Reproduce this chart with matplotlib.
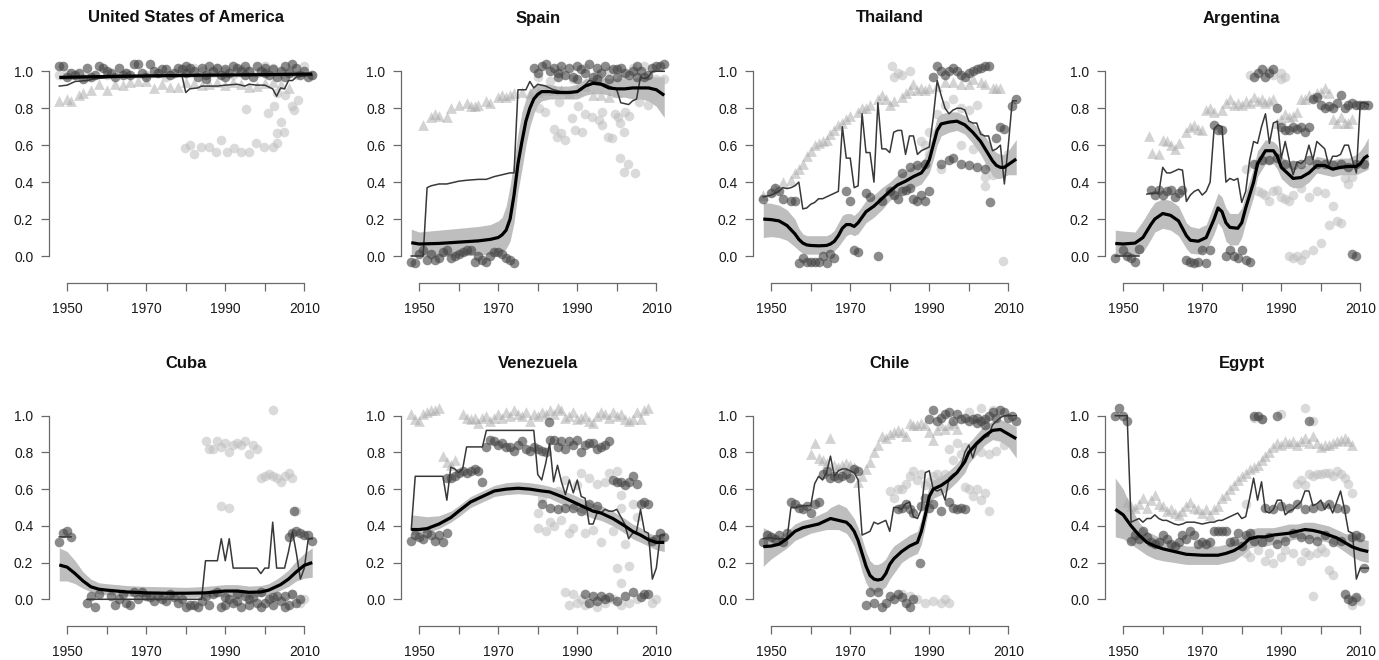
import numpy as np
import matplotlib.pyplot as plt

plt.rcParams['font.family'] = ['Liberation Sans', 'DejaVu Sans']

# ---------------- data ----------------
years_all = list(range(1948, 2013))
nan = np.nan

# United States of America
usa_fit_yr = [1948, 1960, 1980, 2000, 2012]
usa_fit = [0.967, 0.972, 0.978, 0.982, 0.985]
usa_lo = [0.955, 0.962, 0.968, 0.972, 0.972]
usa_hi = [0.978, 0.982, 0.988, 0.992, 0.996]
usa_line_yr = [1948, 1950, 1952, 1955, 1957, 1960, 1965, 1970, 1975, 1979, 1980, 1981, 1983, 1984, 1986, 1988,
               1990, 1993, 1995, 1996, 1998, 2000, 2001, 2002, 2003, 2004, 2005, 2006, 2007, 2008, 2010, 2012]
usa_line = [0.92, 0.925, 0.945, 0.95, 0.96, 0.965, 0.97, 0.975, 0.975, 0.98, 0.885, 0.905, 0.91, 0.92, 0.92, 0.92,
            0.925, 0.93, 0.92, 0.93, 0.925, 0.925, 0.915, 0.905, 0.865, 0.91, 0.905, 0.95, 0.95, 0.97, 0.975, 0.98]
usa_dark = [(1948, 1.03), (1949, 1.03), (1950, 0.97), (1951, 0.99), (1952, 0.98), (1953, 0.99), (1954, 0.96),
            (1955, 1.02), (1956, 0.97), (1957, 0.98), (1958, 1.03), (1959, 1.02), (1960, 1.0), (1961, 0.99),
            (1962, 0.97), (1963, 1.02), (1964, 0.98), (1965, 0.99), (1966, 0.98), (1967, 1.04), (1968, 1.04),
            (1969, 0.99), (1970, 0.97), (1971, 1.04), (1972, 1.0), (1973, 0.99), (1974, 1.01), (1975, 1.01),
            (1976, 0.98), (1977, 0.99), (1978, 1.02), (1979, 1.01), (1980, 0.99), (1981, 1.02), (1982, 1.0),
            (1983, 0.97), (1984, 1.02), (1985, 0.98), (1986, 1.03), (1987, 1.0), (1988, 1.02), (1989, 0.98),
            (1990, 1.01), (1991, 0.99), (1992, 1.03), (1993, 1.02), (1994, 1.0), (1995, 0.98), (1996, 1.0),
            (1997, 0.97), (1998, 1.03), (1999, 1.0), (2000, 0.99), (2001, 0.98), (2002, 1.01), (2003, 0.97),
            (2004, 1.0), (2005, 1.03), (2006, 0.99), (2007, 1.04), (2008, 1.02), (2009, 0.98), (2010, 1.0),
            (2011, 0.97), (2012, 0.98), (1980, 1.03), (1985, 0.96), (1990, 0.97), (1995, 1.03), (2000, 1.02),
            (2005, 0.97)]
usa_light = [(1948, 0.98), (1950, 0.99), (1955, 0.97), (1960, 0.98), (1965, 0.99), (1970, 0.98), (1975, 0.97),
             (1980, 0.99), (1982, 1.02), (1984, 1.0), (1986, 0.99), (1988, 1.02), (1990, 1.0), (1992, 0.98),
             (1994, 1.01), (1996, 1.0), (1998, 0.99), (2000, 1.03), (2002, 1.02), (2004, 0.99), (2006, 1.0),
             (2008, 0.98), (2010, 1.03), (2012, 0.98),
             (1979.9, 0.583), (1981.2, 0.6), (1982, 0.552), (1983.8, 0.59), (1985.9, 0.59), (1987.6, 0.565),
             (1988.8, 0.628), (1990.5, 0.565), (1992.2, 0.583), (1993.9, 0.565), (1996, 0.565), (1995.2, 0.794),
             (1997.7, 0.61), (1999.8, 0.59), (2000.7, 0.776), (2002, 0.59), (2003.2, 0.61), (2003, 0.664),
             (2004, 0.727), (2004.9, 0.673), (2002.4, 0.81), (2005, 0.87), (2007, 0.81), (2007.4, 0.79),
             (2008.3, 0.845), (2003.2, 0.88)]
usa_tri = [(1948, 0.84), (1950, 0.85), (1951, 0.84), (1953, 0.87), (1954, 0.885), (1956, 0.9), (1958, 0.93),
           (1960, 0.9), (1962, 0.93), (1964, 0.925), (1966, 0.94), (1968, 0.95), (1970, 0.945), (1972, 0.91),
           (1974, 0.93), (1976, 0.915), (1978, 0.915), (1980, 0.94), (1982, 0.935), (1984, 0.925), (1986, 0.93),
           (1988, 0.94), (1990, 0.925), (1992, 0.94), (1994, 0.93), (1996, 0.915), (1998, 0.92), (2000, 0.935),
           (2002, 0.94), (2004, 0.93), (2006, 0.91)]

# Spain
esp_fit_yr = [1948, 1950, 1955, 1960, 1965, 1968, 1970, 1971, 1972, 1973, 1974, 1975, 1976, 1977, 1978, 1979, 1980,
              1981, 1983, 1985, 1988, 1990, 1992, 1994, 1996, 1998, 2000, 2002, 2004, 2006, 2008, 2010, 2012]
esp_fit = [0.072, 0.065, 0.068, 0.075, 0.082, 0.09, 0.1, 0.115, 0.14, 0.2, 0.33, 0.5, 0.62, 0.73, 0.8, 0.85, 0.875,
           0.89, 0.89, 0.885, 0.885, 0.89, 0.92, 0.935, 0.93, 0.91, 0.905, 0.905, 0.91, 0.91, 0.91, 0.9, 0.87]
esp_lo = [0.0, 0.0, 0.0, 0.0, 0.005, 0.01, 0.02, 0.025, 0.04, 0.08, 0.18, 0.35, 0.47, 0.6, 0.7, 0.77, 0.82,
          0.84, 0.85, 0.85, 0.85, 0.85, 0.87, 0.88, 0.88, 0.87, 0.86, 0.86, 0.85, 0.85, 0.84, 0.81, 0.75]
esp_hi = [0.145, 0.13, 0.14, 0.15, 0.16, 0.17, 0.19, 0.21, 0.27, 0.38, 0.52, 0.66, 0.78, 0.85, 0.9, 0.92, 0.93,
          0.93, 0.93, 0.92, 0.92, 0.93, 0.96, 0.97, 0.97, 0.96, 0.96, 0.96, 0.96, 0.97, 0.97, 0.97, 0.97]
esp_line_yr = [1948, 1950, 1951, 1952, 1953, 1955, 1957, 1958, 1960, 1962, 1965, 1967, 1969, 1971, 1973, 1974, 1975,
               1977, 1978, 1979, 1980, 1982, 1984, 1986, 1988, 1990, 1991, 1993, 1995, 1997, 1998, 2000, 2001, 2003,
               2004, 2005, 2006, 2007, 2008, 2009, 2010, 2012]
esp_line = [0.0, 0.0, 0.0, 0.37, 0.38, 0.39, 0.39, 0.395, 0.405, 0.41, 0.415, 0.415, 0.43, 0.44, 0.45, 0.45, 0.9,
            0.9, 0.945, 0.91, 0.93, 0.92, 0.9, 0.89, 0.89, 0.89, 0.9, 0.95, 0.94, 0.93, 0.92, 0.9, 0.83, 0.82,
            0.84, 0.85, 0.97, 0.96, 0.97, 1.0, 1.0, 1.0]
esp_dark = [(1948, -0.03), (1949, -0.04), (1950, 0.01), (1951, 0.03), (1952, -0.02), (1953, 0.01), (1954, -0.02),
            (1955, -0.01), (1956, 0.02), (1957, 0.03), (1958, -0.01), (1959, 0.0), (1960, 0.01), (1961, 0.02),
            (1962, 0.03), (1963, 0.03), (1964, -0.03), (1965, 0.0), (1966, -0.02), (1967, -0.03), (1968, 0.0),
            (1969, 0.02), (1970, 0.02), (1971, 0.01), (1972, -0.01), (1973, -0.02), (1974, -0.04),
            (1979, 1.02), (1980, 0.99), (1981, 1.03), (1982, 1.04), (1983, 1.0), (1984, 1.02), (1985, 0.97),
            (1986, 1.03), (1987, 0.98), (1988, 1.02), (1989, 0.97), (1990, 1.03), (1991, 1.01), (1992, 0.99),
            (1993, 1.04), (1994, 0.97), (1995, 1.02), (1996, 0.99), (1997, 1.03), (1998, 0.96), (1999, 1.01),
            (2000, 0.97), (2001, 1.02), (2002, 0.99), (2003, 0.98), (2004, 1.0), (2005, 0.97), (2006, 1.0),
            (2007, 0.97), (2008, 0.98), (2009, 1.02), (2010, 1.03), (2011, 1.03), (2012, 1.04), (1985, 0.99),
            (1990, 0.96), (1995, 0.96), (2000, 1.01), (2005, 1.03)]
esp_light = [(1980, 0.97), (1983, 0.95), (1986, 1.0), (1989, 0.96), (1992, 1.02), (1995, 0.98), (1998, 1.0),
             (2001, 0.96), (2004, 1.02), (2007, 1.03), (2010, 0.96), (2012, 0.96), (1985, 0.88), (1990, 0.89),
             (1995, 0.9), (2000, 0.88), (2005, 0.87),
             (1981.9, 0.78), (1984, 0.69), (1984.9, 0.646), (1986, 0.664), (1987, 0.63), (1988.7, 0.745),
             (1989.5, 0.68), (1991.2, 0.67), (1992, 0.77), (1993.7, 0.755), (1995.4, 0.736), (1996.2, 0.71),
             (1997.9, 0.646), (1998.7, 0.637), (1999.6, 0.77), (2000.4, 0.755), (2000.8, 0.72), (2001.7, 0.67),
             (2000.8, 0.53), (2001.7, 0.457), (2002.9, 0.5), (2004.6, 0.448), (2002.1, 0.78), (2003, 0.76),
             (2005.5, 0.835), (2008, 0.82), (2008.8, 0.87), (1980.3, 0.8), (1985.3, 0.836), (1990.3, 0.81),
             (1996.2, 0.78)]
esp_tri = [(1951, 0.71), (1953, 0.75), (1954, 0.77), (1955, 0.76), (1957, 0.75), (1958, 0.8), (1960, 0.82),
           (1962, 0.83), (1963, 0.81), (1964, 0.81), (1965, 0.82), (1967, 0.84), (1968, 0.83), (1970, 0.86),
           (1971, 0.87), (1972, 0.86), (1973, 0.87), (1974, 0.88), (1976, 0.89), (1978, 0.885), (1980, 0.89),
           (1982, 0.9), (1984, 0.9), (1986, 0.9), (1988, 0.88), (1990, 0.9), (1992, 0.92), (1994, 0.87),
           (1996, 0.87), (1998, 0.86), (2000, 0.89)]

# Thailand
tha_fit_yr = [1948, 1950, 1952, 1954, 1956, 1957, 1958, 1959, 1960, 1962, 1964, 1965, 1966, 1967, 1968, 1969, 1970,
              1971, 1972, 1974, 1976, 1978, 1980, 1982, 1984, 1986, 1988, 1989, 1990, 1991, 1992, 1993, 1995, 1997,
              1999, 2001, 2003, 2005, 2006, 2007, 2008, 2009, 2010, 2011, 2012]
tha_fit = [0.2, 0.197, 0.19, 0.165, 0.12, 0.09, 0.07, 0.06, 0.057, 0.055, 0.057, 0.065, 0.08, 0.11, 0.15, 0.17,
           0.17, 0.16, 0.18, 0.24, 0.27, 0.31, 0.35, 0.385, 0.405, 0.43, 0.45, 0.48, 0.52, 0.6, 0.68, 0.715,
           0.725, 0.73, 0.71, 0.67, 0.62, 0.55, 0.515, 0.49, 0.48, 0.48, 0.495, 0.51, 0.525]
tha_lo = [0.1, 0.105, 0.1, 0.085, 0.05, 0.03, 0.015, 0.01, 0.01, 0.01, 0.015, 0.02, 0.03, 0.05, 0.08, 0.11, 0.12,
          0.11, 0.12, 0.18, 0.21, 0.25, 0.3, 0.33, 0.35, 0.37, 0.39, 0.42, 0.45, 0.52, 0.6, 0.65, 0.67, 0.68, 0.66,
          0.61, 0.55, 0.47, 0.44, 0.42, 0.42, 0.43, 0.44, 0.44, 0.44]
tha_hi = [0.29, 0.285, 0.275, 0.25, 0.2, 0.15, 0.12, 0.11, 0.11, 0.11, 0.11, 0.12, 0.14, 0.18, 0.22, 0.23, 0.23,
          0.22, 0.24, 0.3, 0.33, 0.37, 0.4, 0.44, 0.46, 0.49, 0.51, 0.54, 0.59, 0.67, 0.75, 0.77, 0.78, 0.78, 0.76,
          0.72, 0.68, 0.62, 0.58, 0.56, 0.55, 0.55, 0.57, 0.6, 0.63]
tha_line = [0.32, 0.325, 0.33, 0.34, 0.35, 0.37, 0.365, 0.37, 0.38, 0.4, 0.255, 0.26, 0.28, 0.29, 0.31, 0.31, 0.32,
            0.33, 0.34, 0.35, 0.7, 0.53, 0.53, 0.37, 0.38, 0.77, 0.56, 0.56, 0.4, 0.83, 0.58, 0.58, 0.56, 0.67,
            0.68, 0.68, 0.55, 0.65, 0.65, 0.55, 0.57, 0.58, 0.59, 0.75, 0.95, 0.87, 0.8, 0.77, 0.79, 0.8, 0.8,
            0.79, 0.73, 0.72, 0.72, 0.66, 0.65, 0.65, 0.57, 0.58, 0.6, 0.39, 0.6, 0.84, 0.84]
tha_dark = [(1948, 0.31), (1950, 0.34), (1951, 0.37), (1952, 0.35), (1953, 0.31), (1955, 0.3), (1956, 0.3),
            (1957, -0.04), (1958, -0.01), (1959, -0.035), (1960, -0.03), (1961, -0.03), (1962, -0.035),
            (1963, 0.0), (1964, -0.04), (1965, 0.01), (1966, -0.01), (1969, 0.35), (1970, 0.3), (1971, 0.03),
            (1972, 0.02), (1974, 0.34), (1975, 0.32), (1977, 0.0), (1978, 0.3), (1980, 0.35), (1981, 0.33),
            (1982, 0.31), (1983, 0.35), (1984, 0.36), (1985, 0.37), (1986, 0.31), (1987, 0.3), (1988, 0.33),
            (1989, 0.3), (1990, 0.35), (1991, 0.97), (1992, 1.03), (1993, 1.0), (1994, 0.98), (1995, 1.0),
            (1996, 1.02), (1997, 1.0), (1998, 0.98), (1999, 0.97), (2000, 0.99), (2001, 1.0), (2002, 1.01),
            (2003, 1.02), (2004, 1.03), (2005, 1.03), (1993, 0.5), (1995, 0.52), (1996, 0.53), (1998, 0.5),
            (2000, 0.49), (2002, 0.48), (2004, 0.47), (2005.3, 0.29), (2007, 0.64), (2008, 0.7), (2009, 0.69),
            (2011, 0.81), (2012, 0.85), (1983, 0.45), (1985, 0.48), (1987, 0.49), (1989, 0.5)]
tha_light = [(1980.5, 1.03), (1981, 0.97), (1982, 0.99), (1983, 0.98), (1985, 1.0), (1987, 0.46), (1988, 0.62),
             (1989, 0.6), (1990, 0.67), (1990, 0.55), (1993, 0.47), (1994, 0.82), (1996, 0.85), (1998, 0.8),
             (2000, 0.79), (2001, 0.58), (2003, 0.6), (2004, 0.38), (2005, 0.49), (2007, 0.45), (2008.7, -0.025),
             (2010, 0.55), (1992, 0.77), (1998, 0.6), (2002, 0.82), (2004, 0.43), (2006, 0.44)]
tha_tri = [(1948, 0.33), (1950, 0.35), (1951, 0.37), (1953, 0.4), (1955, 0.41), (1956, 0.45), (1957, 0.47),
           (1958, 0.5), (1959, 0.54), (1960, 0.57), (1961, 0.6), (1962, 0.61), (1963, 0.62), (1964, 0.63),
           (1965, 0.66), (1966, 0.68), (1967, 0.71), (1968, 0.72), (1969, 0.74), (1970, 0.76), (1972, 0.78),
           (1973, 0.8), (1974, 0.8), (1975, 0.82), (1977, 0.85), (1978, 0.87), (1979, 0.85), (1980, 0.82),
           (1981, 0.84), (1983, 0.86), (1984, 0.88), (1985, 0.9), (1986, 0.93), (1987, 0.9), (1988, 0.91),
           (1989, 0.9), (1990, 0.91), (1992, 0.92), (1994, 0.94), (1996, 0.94), (1998, 0.93), (2000, 0.93),
           (2001, 0.96), (2003, 0.94), (2004, 0.93), (2006, 0.91), (2007, 0.91), (2008, 0.91)]

# Argentina
arg_fit_yr = [1948, 1950, 1953, 1955, 1957, 1958, 1960, 1962, 1964, 1966, 1967, 1969, 1971, 1973, 1974, 1975, 1976,
              1977, 1979, 1980, 1981, 1982, 1983, 1984, 1986, 1988, 1989, 1990, 1992, 1993, 1995, 1997, 1999, 2001,
              2003, 2005, 2007, 2009, 2010, 2011, 2012]
arg_fit = [0.068, 0.065, 0.07, 0.1, 0.17, 0.2, 0.23, 0.22, 0.19, 0.11, 0.085, 0.08, 0.1, 0.2, 0.26, 0.24, 0.18,
           0.155, 0.15, 0.18, 0.26, 0.33, 0.4, 0.5, 0.57, 0.57, 0.54, 0.48, 0.44, 0.42, 0.425, 0.45, 0.49, 0.49,
           0.47, 0.48, 0.485, 0.485, 0.5, 0.53, 0.545]
arg_lo = [0.0, 0.0, 0.0, 0.02, 0.09, 0.13, 0.15, 0.14, 0.11, 0.04, 0.015, 0.01, 0.03, 0.12, 0.18, 0.15, 0.08, 0.06,
          0.06, 0.1, 0.18, 0.25, 0.32, 0.43, 0.5, 0.5, 0.47, 0.42, 0.38, 0.37, 0.37, 0.4, 0.45, 0.44, 0.43, 0.44,
          0.44, 0.44, 0.45, 0.46, 0.47]
arg_hi = [0.14, 0.135, 0.13, 0.19, 0.26, 0.29, 0.31, 0.3, 0.27, 0.18, 0.16, 0.15, 0.17, 0.28, 0.34, 0.32, 0.26,
          0.23, 0.23, 0.26, 0.34, 0.41, 0.48, 0.57, 0.63, 0.62, 0.6, 0.54, 0.5, 0.48, 0.48, 0.5, 0.54, 0.53, 0.52,
          0.53, 0.53, 0.55, 0.57, 0.6, 0.64]
arg_line = [0.0, 0.0, 0.0, 0.0, 0.0, 0.0, 0.0, nan, 0.335, 0.34, 0.34, 0.34, 0.48, 0.45, 0.45, 0.46, 0.47, 0.465,
            0.295, 0.33, 0.35, 0.36, 0.33, 0.35, 0.4, 0.69, 0.71, 0.7, 0.4, 0.42, 0.41, 0.42, 0.29, 0.35, 0.52,
            0.62, 0.61, 0.7, 0.77, 0.61, 0.72, 0.73, 0.53, 0.62, 0.52, 0.44, 0.51, 0.5, 0.52, 0.6, 0.52, 0.62,
            0.6, 0.58, 0.49, 0.54, 0.54, 0.55, 0.6, 0.6, 0.52, 0.45, 0.83, 0.83, 0.82]
arg_dark = [(1948, -0.01), (1950, 0.03), (1951, 0.0), (1952, -0.01), (1953, -0.03), (1954, 0.04), (1957, 0.36),
            (1958, 0.33), (1959, 0.36), (1960, 0.33), (1961, 0.35), (1962, 0.36), (1963, 0.32), (1964, 0.34),
            (1965, 0.36), (1966, -0.02), (1967, -0.03), (1968, -0.04), (1969, -0.03), (1970, 0.03),
            (1971, -0.04), (1972, 0.03), (1973, 0.71), (1974, 0.68), (1975, 0.68), (1976, 0.0), (1977, 0.03),
            (1978, 0.0), (1979, -0.01), (1980, 0.03), (1981, -0.02), (1982, -0.03), (1983, 0.97), (1984, 0.99),
            (1985, 1.01), (1986, 0.97), (1987, 0.99), (1988, 1.01), (1989, 0.8), (1990, 0.7), (1991, 0.68),
            (1992, 0.68), (1993, 0.7), (1994, 0.69), (1995, 0.7), (1996, 0.67), (1997, 0.7), (1998, 0.85),
            (1999, 0.86), (2000, 0.82), (2001, 0.8), (2002, 0.81), (2003, 0.8), (2004, 0.83), (2005, 0.87),
            (2006, 0.8), (2007, 0.82), (2008, 0.83), (2009, 0.82), (2010, 0.82), (2011, 0.82), (2012, 0.82),
            (1983, 0.5), (1985, 0.52), (1987, 0.52), (1989, 0.53), (1991, 0.5), (1993, 0.49), (1995, 0.5),
            (1997, 0.52), (1999, 0.5), (2001, 0.5), (2003, 0.49), (2005, 0.5), (2007, 0.48), (2009, 0.5),
            (2011, 0.5), (2008, 0.01), (2009, 0.0)]
arg_light = [(1981, 0.47), (1982, 0.98), (1984, 0.35), (1985, 0.34), (1986, 0.33), (1987, 0.3), (1988, 0.35),
             (1989, 0.36), (1990, 0.32), (1991, 0.31), (1992, 0.0), (1993, -0.01), (1994, 0.0), (1995, -0.02),
             (1996, 0.01), (1997, 0.32), (1998, 0.03), (1999, 0.35), (2000, 0.07), (2001, 0.34), (2002, 0.17),
             (2003, 0.27), (2004, 0.19), (2005, 0.18), (2006, 0.42), (2007, 0.39), (2008, 0.43), (1990, 0.96),
             (1990, 0.99), (1991, 0.97), (1992, 0.3), (1993, 0.33), (1995, 0.37), (1988, 0.98), (1987, 1.0)]
arg_tri = [(1956.6, 0.65), (1957.2, 0.56), (1959, 0.55), (1960, 0.63), (1961, 0.62), (1962, 0.6), (1963, 0.58),
           (1964, 0.61), (1966, 0.67), (1967, 0.7), (1968, 0.71), (1969, 0.69), (1970, 0.68), (1971, 0.79),
           (1972, 0.8), (1973, 0.78), (1975, 0.79), (1976, 0.83), (1977, 0.85), (1978, 0.82), (1979, 0.83),
           (1980, 0.82), (1981, 0.84), (1982, 0.83), (1983, 0.86), (1984, 0.84), (1985, 0.85), (1986, 0.83),
           (1987, 0.84), (1988, 0.85), (1989, 0.72), (1990, 0.74), (1991, 0.77), (1992, 0.75), (1993, 0.76),
           (1994, 0.78), (1995, 0.85), (1996, 0.85), (1997, 0.87), (1998, 0.86), (1999, 0.88), (2000, 0.89),
           (2001, 0.91), (2002, 0.88), (2003, 0.74), (2004, 0.72), (2005, 0.75), (2006, 0.72), (2007, 0.72),
           (2008, 0.74)]

# Cuba
cub_fit_yr = [1948, 1950, 1952, 1954, 1956, 1958, 1960, 1965, 1970, 1975, 1980, 1985, 1990, 1993, 1996, 1999, 2001,
              2003, 2004, 2006, 2008, 2010, 2012]
cub_fit = [0.187, 0.175, 0.14, 0.1, 0.068, 0.055, 0.05, 0.04, 0.035, 0.033, 0.033, 0.035, 0.045, 0.045, 0.038,
           0.04, 0.05, 0.07, 0.08, 0.11, 0.15, 0.185, 0.2]
cub_lo = [0.1, 0.1, 0.085, 0.06, 0.04, 0.03, 0.025, 0.018, 0.015, 0.012, 0.01, 0.012, 0.015, 0.015, 0.012, 0.015,
          0.025, 0.04, 0.05, 0.07, 0.1, 0.115, 0.12]
cub_hi = [0.28, 0.26, 0.21, 0.15, 0.11, 0.09, 0.085, 0.075, 0.07, 0.068, 0.065, 0.07, 0.08, 0.08, 0.072, 0.075,
          0.085, 0.11, 0.125, 0.16, 0.21, 0.25, 0.28]
cub_line = [0.34, 0.34, 0.34, 0.34, nan, nan, nan, 0.0, 0.0, 0.0, 0.0, 0.0, 0.0, 0.0, 0.0, 0.0, 0.0, 0.0, 0.0, 0.0,
            0.0, 0.0, 0.0, 0.0, 0.0, 0.0, 0.0, 0.0, 0.0, 0.0, 0.0, 0.0, 0.0, 0.0, 0.0, 0.0, 0.0, 0.21, 0.21, 0.21,
            0.21, 0.33, 0.21, 0.33, 0.17, 0.17, 0.17, 0.17, 0.17, 0.17, 0.17, 0.14, 0.17, 0.17, 0.42, 0.17, 0.17,
            0.17, 0.26, 0.37, 0.25, 0.11, 0.17, 0.33, 0.33]
cub_dark = [(1948, 0.31), (1949, 0.36), (1950, 0.37), (1951, 0.34), (1955, -0.02), (1956, 0.02), (1957, -0.04),
            (1958, 0.03), (1961, 0.02), (1962, -0.03), (1963, 0.0), (1964, 0.03), (1965, -0.02), (1966, -0.03),
            (1967, 0.04), (1968, 0.0), (1969, 0.04), (1970, 0.02), (1971, 0.01), (1972, -0.01), (1973, 0.02),
            (1974, 0.0), (1975, -0.01), (1976, 0.03), (1977, 0.01), (1978, -0.02), (1979, 0.0), (1980, -0.04),
            (1981, -0.03), (1982, -0.03), (1983, -0.04), (1984, -0.01), (1985, 0.02), (1986, -0.03),
            (1987, 0.03), (1988, 0.04), (1989, -0.04), (1990, 0.01), (1991, 0.0), (1992, -0.02), (1993, 0.03),
            (1994, -0.04), (1995, 0.02), (1996, -0.03), (1997, 0.01), (1998, -0.02), (1999, 0.04), (2000, -0.02),
            (2001, 0.0), (2002, -0.03), (2003, 0.02), (2004, -0.01), (2005, 0.02), (2006, -0.03), (2007, 0.03),
            (2008, -0.02), (2009, 0.0), (1990, -0.03), (1993, -0.01), (1996, 0.0), (1999, -0.04), (2002, 0.01),
            (2005, -0.04), (2006, 0.34), (2007, 0.36), (2008, 0.37), (2009, 0.36), (2010, 0.35), (2011, 0.35),
            (2012, 0.32), (2007.4, 0.48)]
cub_light = [(1985, 0.86), (1986, 0.82), (1987, 0.82), (1988, 0.86), (1989, 0.51), (1989, 0.83), (1990, 0.85),
             (1991, 0.8), (1991, 0.5), (1992, 0.84), (1993, 0.85), (1994, 0.84), (1995, 0.86), (1996, 0.79),
             (1997, 0.84), (1998, 0.82), (1999, 0.66), (2000, 0.67), (2001, 0.68), (2002, 1.03), (2002, 0.67),
             (2003, 0.66), (2004, 0.64), (2005, 0.67), (2006, 0.69), (2007, 0.66), (2008, 0.48), (2007, 0.03),
             (2009, -0.02), (2010, 0.0)]
cub_tri = []

# Venezuela
ven_fit_yr = [1948, 1950, 1952, 1955, 1958, 1960, 1963, 1966, 1969, 1972, 1975, 1978, 1981, 1983, 1986, 1989, 1992,
              1994, 1996, 1999, 2002, 2004, 2006, 2008, 2010, 2012]
ven_fit = [0.38, 0.38, 0.385, 0.41, 0.445, 0.48, 0.53, 0.56, 0.59, 0.6, 0.605, 0.6, 0.59, 0.585, 0.56, 0.53, 0.5,
           0.48, 0.47, 0.44, 0.4, 0.37, 0.35, 0.325, 0.31, 0.31]
ven_lo = [0.35, 0.36, 0.365, 0.385, 0.42, 0.45, 0.5, 0.53, 0.56, 0.57, 0.575, 0.57, 0.56, 0.55, 0.52, 0.49, 0.46,
          0.44, 0.43, 0.4, 0.36, 0.33, 0.31, 0.29, 0.27, 0.26]
ven_hi = [0.46, 0.455, 0.45, 0.455, 0.48, 0.51, 0.56, 0.59, 0.62, 0.635, 0.64, 0.635, 0.625, 0.615, 0.595, 0.57,
          0.54, 0.52, 0.51, 0.48, 0.44, 0.41, 0.39, 0.36, 0.35, 0.36]
ven_line = [0.38, 0.67, 0.67, 0.67, 0.67, 0.67, 0.67, 0.67, 0.67, 0.54, 0.72, 0.71, 0.69, 0.71, 0.83, 0.83, 0.83,
            0.83, 0.83, 0.92, 0.92, 0.92, 0.92, 0.92, 0.92, 0.92, 0.92, 0.92, 0.92, 0.92, 0.92, 0.92, 0.68, 0.65,
            0.74, 0.85, 0.64, 0.73, 0.64, 0.57, 0.65, 0.58, 0.65, 0.56, 0.55, 0.41, 0.41, 0.47, 0.47, 0.49, 0.48,
            0.48, 0.49, 0.45, 0.41, 0.33, 0.36, 0.37, 0.49, 0.37, 0.36, 0.11, 0.17, 0.35, 0.35]
ven_dark = [(1948, 0.32), (1949, 0.35), (1950, 0.34), (1951, 0.33), (1952, 0.36), (1953, 0.35), (1954, 0.32),
            (1955, 0.35), (1956, 0.31), (1957, 0.36), (1957, 0.66), (1958, 0.66), (1959, 0.67), (1960, 0.69),
            (1961, 0.7), (1962, 0.69), (1963, 0.7), (1964, 0.71), (1965, 0.7), (1966, 0.64), (1967, 0.83),
            (1968, 0.87), (1969, 0.86), (1970, 0.84), (1971, 0.85), (1972, 0.83), (1973, 0.83), (1974, 0.81),
            (1975, 0.84), (1976, 0.86), (1977, 0.82), (1978, 0.81), (1979, 0.83), (1980, 0.82), (1981, 0.81),
            (1982, 0.8), (1983, 0.87), (1984, 0.87), (1985, 0.83), (1986, 0.86), (1987, 0.82), (1988, 0.86),
            (1989, 0.84), (1990, 0.87), (1991, 0.8), (1992, 0.84), (1993, 0.85), (1994, 0.85), (1995, 0.82),
            (1996, 0.83), (1997, 0.84), (1998, 0.86), (1999, 0.65), (2000, 0.64), (2001, 0.64), (2002, 0.62),
            (2003, 0.64), (2004, 0.67), (2005, 0.63), (2006, 0.52), (2007, 0.53), (2008, 0.52), (2009, 0.32),
            (2010, 0.33), (2011, 0.36), (2012, 0.34), (1981, 0.52), (1983, 0.5), (1985, 0.49), (1987, 0.5),
            (1989, 0.5), (1991, 0.48), (1993, 0.52), (1995, 0.51), (1992, 0.03), (1993, -0.02), (1994, 0.02),
            (1995, -0.01), (1996, 0.02), (1997, 0.0), (1998, 0.01), (2000, -0.01), (2002, 0.02), (2004, 0.04),
            (2006, 0.01), (2007, 0.03), (2008, 0.03), (1982.8, 0.967)]
ven_light = [(1980, 0.47), (1980, 0.39), (1981, 0.55), (1982, 0.37), (1983, 0.42), (1984, 0.4), (1985, 0.59),
             (1986, 0.43), (1987, 0.65), (1988, 0.36), (1989, 0.39), (1990, 0.62), (1991, 0.69), (1992, 0.36),
             (1993, 0.66), (1994, 0.38), (1995, 0.63), (1996, 0.31), (1997, 0.64), (1998, 0.69), (1999, 0.37),
             (2000, 0.7), (2001, 0.57), (2001, 0.5), (2002, 0.3), (2003, 0.18), (2000, 0.17), (2001, 0.09),
             (2004, 0.52), (2005, 0.45), (1987, 0.04), (1988, -0.03), (1989, 0.03), (1990, -0.02), (1991, 0.0),
             (1992, -0.03), (1995, -0.04), (1997, -0.02), (1999, 0.0), (2001, -0.03), (2003, -0.02), (2005, 0.0),
             (2009, -0.02), (2010, 0.0)]
ven_tri = [(1948, 1.01), (1949, 0.98), (1950, 0.97), (1951, 1.01), (1952, 1.02), (1953, 1.03), (1954, 1.03),
           (1955, 1.04), (1956, 0.78), (1957, 0.75), (1958, 0.73), (1959, 0.76), (1961, 1.01), (1962, 0.99),
           (1963, 0.98), (1964, 0.99), (1965, 0.96), (1966, 0.99), (1967, 1.0), (1968, 0.97), (1969, 0.99),
           (1970, 1.01), (1971, 0.99), (1972, 1.02), (1973, 1.0), (1974, 1.03), (1975, 1.01), (1976, 1.0),
           (1977, 1.02), (1978, 0.97), (1979, 1.01), (1980, 1.0), (1981, 1.02), (1982, 1.01), (1983, 1.03),
           (1984, 1.01), (1985, 1.04), (1986, 1.03), (1987, 0.99), (1988, 1.0), (1989, 1.02), (1990, 0.98),
           (1991, 0.99), (1992, 1.0), (1993, 0.97), (1994, 0.96), (1995, 1.0), (1996, 1.02), (1997, 1.01),
           (1998, 0.99), (1999, 1.02), (2000, 1.0), (2001, 1.01), (2002, 0.98), (2003, 0.97), (2004, 0.98),
           (2005, 1.02), (2006, 0.98), (2007, 1.03), (2008, 1.04)]

# Chile
chl_fit_yr = [1948, 1950, 1952, 1954, 1956, 1958, 1960, 1962, 1964, 1965, 1967, 1969, 1970, 1971, 1972, 1973, 1974,
              1975, 1976, 1977, 1978, 1979, 1980, 1981, 1983, 1985, 1987, 1988, 1989, 1990, 1991, 1993, 1995, 1997,
              1999, 2000, 2002, 2004, 2006, 2008, 2010, 2012]
chl_fit = [0.287, 0.29, 0.3, 0.33, 0.37, 0.39, 0.4, 0.41, 0.43, 0.44, 0.43, 0.42, 0.4, 0.37, 0.32, 0.25, 0.18, 0.13,
           0.11, 0.105, 0.11, 0.14, 0.19, 0.22, 0.26, 0.29, 0.31, 0.37, 0.46, 0.56, 0.6, 0.62, 0.65, 0.69, 0.75,
           0.8, 0.85, 0.89, 0.92, 0.925, 0.9, 0.875]
chl_lo = [0.18, 0.22, 0.25, 0.28, 0.32, 0.34, 0.36, 0.37, 0.38, 0.38, 0.38, 0.36, 0.33, 0.29, 0.23, 0.15, 0.09,
          0.05, 0.04, 0.04, 0.05, 0.07, 0.11, 0.14, 0.2, 0.23, 0.25, 0.3, 0.4, 0.51, 0.55, 0.57, 0.6, 0.64, 0.69,
          0.74, 0.79, 0.84, 0.87, 0.86, 0.83, 0.77]
chl_hi = [0.39, 0.37, 0.34, 0.37, 0.41, 0.43, 0.44, 0.46, 0.48, 0.5, 0.52, 0.5, 0.47, 0.44, 0.39, 0.33, 0.26, 0.21,
          0.19, 0.19, 0.2, 0.22, 0.26, 0.29, 0.32, 0.35, 0.37, 0.44, 0.53, 0.62, 0.65, 0.67, 0.7, 0.74, 0.8, 0.85,
          0.9, 0.95, 0.97, 0.98, 0.96, 0.94]
chl_line = [0.33, 0.335, 0.335, 0.33, 0.33, 0.33, 0.33, 0.5, 0.5, 0.505, 0.51, 0.51, 0.51, 0.63, 0.67, 0.65, 0.69,
            0.78, 0.67, 0.7, 0.71, 0.71, 0.7, 0.69, 0.65, 0.35, 0.36, 0.37, 0.42, 0.41, 0.42, 0.43, 0.37, 0.5,
            0.5, 0.49, 0.52, 0.53, 0.45, 0.44, 0.49, 0.69, 0.7, 0.6, 0.59, 0.6, 0.54, 0.66, 0.68, 0.69, 0.72, 0.8,
            0.84, 0.77, 0.84, 0.86, 0.88, 0.89, 0.95, 0.97, 0.99, 1.0, 1.0, 1.0, 1.0]
chl_dark = [(1948, 0.31), (1949, 0.35), (1950, 0.34), (1951, 0.33), (1952, 0.35), (1953, 0.31), (1954, 0.36),
            (1955, 0.53), (1956, 0.52), (1957, 0.5), (1958, 0.49), (1959, 0.51), (1960, 0.47), (1961, 0.52),
            (1962, 0.53), (1963, 0.68), (1964, 0.7), (1965, 0.66), (1966, 0.67), (1967, 0.66), (1968, 0.67),
            (1969, 0.68), (1970, 0.66), (1971, 0.71), (1972, 0.7), (1974, -0.03), (1975, 0.04), (1976, -0.02),
            (1977, 0.04), (1978, -0.04), (1979, -0.02), (1980, 0.02), (1981, 0.0), (1982, 0.03), (1983, 0.01),
            (1984, -0.02), (1985, -0.04), (1986, 0.0), (1987.7, 0.2), (1982, 0.49), (1983, 0.5), (1984, 0.52),
            (1985, 0.49), (1986, 0.47), (1988, 0.51), (1989, 0.55), (1990, 0.98), (1991, 1.03), (1992, 0.97),
            (1993, 0.99), (1994, 1.01), (1995, 1.02), (1996, 0.97), (1997, 1.01), (1998, 0.98), (1999, 0.99),
            (2000, 0.97), (2001, 0.98), (2002, 0.99), (2003, 0.97), (2004, 0.98), (2005, 1.0), (2006, 1.02),
            (2007, 0.99), (2008, 1.03), (2009, 1.02), (2010, 0.99), (2011, 1.0), (2012, 0.97), (1990, 0.5),
            (1991, 0.52), (1993, 0.48), (1995, 0.53), (1996, 0.5), (1997, 0.49), (1998, 0.5), (1999, 0.49),
            (2002, 0.96), (2004, 0.95)]
chl_light = [(1980, 0.59), (1981, 0.55), (1982, 0.6), (1983, 0.6), (1984, 0.63), (1985, 0.67), (1986, 0.7),
             (1987, 0.65), (1988, 0.68), (1989, 0.62), (1990, 0.64), (1991, 0.67), (1992, 0.68), (1993, 0.65),
             (1994, 0.68), (1995, 0.82), (1996, 0.76), (1997, 0.85), (1998, 0.79), (1999, 0.61), (2000, 0.6),
             (2001, 0.56), (2002, 0.6), (2003, 0.54), (2004, 0.58), (2005, 0.48), (1999, 0.83), (2001, 0.84),
             (2003, 0.8), (2005, 0.79), (2007, 0.81), (2009, 0.84), (1983, 0.03), (1985, 0.02), (1987, 0.0),
             (1989, -0.02), (1991, -0.01), (1993, -0.02), (1994, 0.0), (1995, -0.02), (2000, 1.02), (2003, 1.04),
             (2006, 1.03)]
chl_tri = [(1960, 0.79), (1961, 0.85), (1962, 0.77), (1963, 0.76), (1964, 0.74), (1965, 0.88), (1966, 0.73),
           (1967, 0.72), (1968, 0.73), (1969, 0.74), (1970, 0.73), (1971, 0.72), (1972, 0.64), (1973, 0.67),
           (1974, 0.71), (1975, 0.75), (1976, 0.8), (1977, 0.84), (1978, 0.89), (1979, 0.88), (1980, 0.9),
           (1981, 0.91), (1982, 0.92), (1983, 0.91), (1984, 0.89), (1985, 0.96), (1986, 0.95), (1987, 0.95),
           (1988, 0.96), (1989, 0.95), (1990, 0.91), (1991, 0.87), (1992, 0.92), (1993, 0.95), (1994, 0.93),
           (1995, 0.95), (1996, 0.96), (1997, 0.93)]

# Egypt
egy_fit_yr = [1948, 1950, 1952, 1954, 1956, 1958, 1960, 1963, 1966, 1970, 1974, 1976, 1978, 1980, 1982, 1984, 1986,
              1988, 1990, 1992, 1994, 1996, 1998, 2000, 2002, 2004, 2006, 2008, 2010, 2012]
egy_fit = [0.49, 0.46, 0.4, 0.35, 0.31, 0.29, 0.275, 0.26, 0.245, 0.24, 0.24, 0.25, 0.265, 0.29, 0.33, 0.34, 0.34,
           0.35, 0.355, 0.36, 0.37, 0.38, 0.375, 0.365, 0.35, 0.335, 0.31, 0.285, 0.27, 0.26]
egy_lo = [0.34, 0.33, 0.3, 0.27, 0.24, 0.22, 0.21, 0.2, 0.19, 0.19, 0.19, 0.2, 0.21, 0.24, 0.28, 0.29, 0.29, 0.3,
          0.31, 0.32, 0.33, 0.33, 0.33, 0.32, 0.31, 0.29, 0.26, 0.23, 0.21, 0.2]
egy_hi = [0.66, 0.6, 0.5, 0.42, 0.37, 0.35, 0.33, 0.31, 0.29, 0.29, 0.29, 0.3, 0.32, 0.34, 0.38, 0.39, 0.39, 0.39,
          0.4, 0.41, 0.41, 0.42, 0.42, 0.41, 0.4, 0.38, 0.36, 0.35, 0.33, 0.32]
egy_line = [1.0, 1.0, 1.0, 1.0, 0.42, 0.43, 0.44, 0.42, 0.44, 0.44, 0.46, 0.44, 0.43, 0.43, 0.42, 0.41, 0.405, 0.41,
            0.42, 0.42, 0.42, 0.415, 0.41, 0.415, 0.42, 0.42, 0.43, 0.43, 0.44, 0.45, 0.46, 0.47, 0.44, 0.45, 0.55,
            0.66, 0.54, 0.64, 0.48, 0.47, 0.49, 0.54, 0.54, 0.46, 0.48, 0.49, 0.51, 0.53, 0.59, 0.59, 0.51, 0.52,
            0.54, 0.49, 0.52, 0.47, 0.53, 0.59, 0.49, 0.37, 0.36, 0.11, 0.17, 0.17, 0.17]
egy_dark = [(1948, 1.0), (1949, 1.04), (1950, 1.0), (1951, 0.97), (1952, 0.32), (1953, 0.35), (1954, 0.33),
            (1955, 0.37), (1956, 0.34), (1957, 0.31), (1958, 0.3), (1959, 0.31), (1960, 0.35), (1961, 0.33),
            (1962, 0.3), (1963, 0.29), (1964, 0.31), (1965, 0.35), (1966, 0.33), (1967, 0.37), (1968, 0.35),
            (1969, 0.3), (1970, 0.31), (1971, 0.3), (1972, 0.31), (1973, 0.37), (1974, 0.37), (1975, 0.37),
            (1976, 0.37), (1977, 0.31), (1978, 0.32), (1979, 0.36), (1980, 0.29), (1981, 0.35), (1982, 0.36),
            (1983, 1.0), (1984, 1.0), (1985, 0.98), (1983, 0.32), (1985, 0.31), (1987, 0.34), (1989, 0.3),
            (1991, 0.32), (1993, 0.36), (1995, 0.34), (1997, 0.33), (1999, 0.32), (2001, 0.35), (2003, 0.31),
            (2005, 0.32), (1986, 0.5), (1988, 0.49), (1990, 0.51), (1992, 0.5), (1994, 0.52), (1996, 0.49),
            (1998, 0.5), (2000, 0.51), (2002, 0.52), (2004, 0.5), (2006, 0.49), (1989, 1.0), (1997, 0.97),
            (2008, 0.34), (2009, 0.35), (2010, 0.34), (2011, 0.17), (2006, 0.03), (2007, 0.0), (2008, -0.01),
            (2009, 0.01)]
egy_light = [(1983, 0.99), (1985, 0.98), (1990, 1.01), (1996, 1.04), (1998, 0.97), (1981, 0.52), (1981, 0.25),
             (1982, 0.23), (1984, 0.27), (1986, 0.21), (1987, 0.25), (1988, 0.2), (1990, 0.23), (1991, 0.27),
             (1993, 0.25), (1995, 0.21), (1996, 0.26), (1998, 0.02), (1997, 0.24), (1999, 0.25), (2000, 0.28),
             (2001, 0.26), (1994, 0.63), (1995, 0.65), (1996, 0.62), (1997, 0.68), (1998, 0.67), (1999, 0.68),
             (2000, 0.68), (2001, 0.69), (2002, 0.69), (2003, 0.67), (2004, 0.7), (2005, 0.68), (2006, 0.66),
             (2007, 0.63), (2008, 0.58), (2002, 0.16), (2003, 0.13), (2008, -0.03), (2009, 0.0), (2010, -0.01)]
egy_tri = [(1951, 0.53), (1952, 0.51), (1953, 0.5), (1954, 0.52), (1955, 0.55), (1956, 0.5), (1957, 0.54),
           (1958, 0.57), (1959, 0.52), (1960, 0.51), (1961, 0.48), (1962, 0.49), (1963, 0.47), (1964, 0.46),
           (1965, 0.48), (1966, 0.51), (1967, 0.53), (1968, 0.5), (1969, 0.49), (1970, 0.47), (1971, 0.49),
           (1972, 0.46), (1973, 0.49), (1974, 0.51), (1975, 0.55), (1976, 0.57), (1977, 0.6), (1978, 0.62),
           (1979, 0.65), (1980, 0.67), (1981, 0.69), (1982, 0.71), (1983, 0.72), (1984, 0.73), (1985, 0.76),
           (1986, 0.78), (1987, 0.8), (1988, 0.83), (1989, 0.85), (1990, 0.84), (1991, 0.86), (1992, 0.85),
           (1993, 0.86), (1994, 0.84), (1995, 0.86), (1996, 0.88), (1997, 0.85), (1998, 0.89), (1999, 0.85),
           (2000, 0.83), (2001, 0.84), (2002, 0.84), (2003, 0.85), (2004, 0.86), (2005, 0.87), (2006, 0.88),
           (2007, 0.86), (2008, 0.84)]

panels = [
    ('United States of America', usa_fit_yr, usa_fit, usa_lo, usa_hi, usa_line_yr, usa_line, usa_dark, usa_light, usa_tri),
    ('Spain', esp_fit_yr, esp_fit, esp_lo, esp_hi, esp_line_yr, esp_line, esp_dark, esp_light, esp_tri),
    ('Thailand', tha_fit_yr, tha_fit, tha_lo, tha_hi, years_all, tha_line, tha_dark, tha_light, tha_tri),
    ('Argentina', arg_fit_yr, arg_fit, arg_lo, arg_hi, years_all, arg_line, arg_dark, arg_light, arg_tri),
    ('Cuba', cub_fit_yr, cub_fit, cub_lo, cub_hi, years_all, cub_line, cub_dark, cub_light, cub_tri),
    ('Venezuela', ven_fit_yr, ven_fit, ven_lo, ven_hi, years_all, ven_line, ven_dark, ven_light, ven_tri),
    ('Chile', chl_fit_yr, chl_fit, chl_lo, chl_hi, years_all, chl_line, chl_dark, chl_light, chl_tri),
    ('Egypt', egy_fit_yr, egy_fit, egy_lo, egy_hi, years_all, egy_line, egy_dark, egy_light, egy_tri),
]


def pts(pairs):
    if not pairs:
        return [], []
    a = np.array(pairs, dtype=float)
    return a[:, 0], a[:, 1]


# ---------------- layout (pixel based, figure 1379 x 660) ----------------
W, H = 1379, 660
fig = plt.figure(figsize=(W / 100, H / 100), dpi=100)

col_left = [49, 401, 753, 1105]
ax_w = 273.5
row_top = [55.6, 400.1]
row_bot = [271.7, 614.9]
title_y = [18, 363]

axis_col = '#6a6a6a'

for i, (name, fyr, fit, lo, hi, lyr, line, dark, light, tri) in enumerate(panels):
    r, c = divmod(i, 4)
    ax = fig.add_axes([col_left[c] / W, 1 - row_bot[r] / H, ax_w / W, (row_bot[r] - row_top[r]) / H])

    ax.fill_between(fyr, lo, hi, color='#bebebe', lw=0, zorder=1)
    tx, ty = pts(tri)
    ax.scatter(tx, ty, marker='^', s=60, color='#a8a8a8', alpha=0.5, lw=0, zorder=2)
    lx, ly = pts(light)
    ax.scatter(lx, ly, marker='o', s=48, color='#bdbdbd', alpha=0.55, lw=0, zorder=2)
    dx, dy = pts(dark)
    ax.scatter(dx, dy, marker='o', s=48, color='#444444', alpha=0.62, lw=0, zorder=2)
    ax.plot(lyr, line, color='#383838', lw=1.1, zorder=3)
    ax.plot(fyr, fit, color='black', lw=2.3, zorder=4, solid_capstyle='butt')

    ax.set_xlim(1945.4, 2014.6)
    ax.set_ylim(-0.085, 1.085)

    for s in ['top', 'right']:
        ax.spines[s].set_visible(False)
    ax.spines['left'].set_bounds(0, 1)
    ax.spines['bottom'].set_bounds(1950, 2010)
    ax.spines['bottom'].set_position(('outward', 8.3))
    for s in ['left', 'bottom']:
        ax.spines[s].set_color(axis_col)
        ax.spines[s].set_linewidth(0.9)

    ax.set_xticks([1950, 1960, 1970, 1980, 1990, 2000, 2010])
    ax.set_xticklabels(['1950', '', '1970', '', '1990', '', '2010'])
    ax.set_yticks([0, 0.2, 0.4, 0.6, 0.8, 1.0])
    ax.set_yticklabels(['0.0', '0.2', '0.4', '0.6', '0.8', '1.0'])
    ax.tick_params(axis='both', direction='out', color=axis_col, width=0.9, labelsize=10, labelcolor='#1a1a1a')
    ax.tick_params(axis='y', length=5.8, pad=5.5)
    ax.tick_params(axis='x', length=5.5, pad=8)

    cx = (col_left[c] + ax_w / 2) / W
    fig.text(cx, 1 - title_y[r] / H, name, ha='center', va='center', fontsize=12, fontweight='bold', color='#111111')

fig.savefig('out.png', dpi=100)
